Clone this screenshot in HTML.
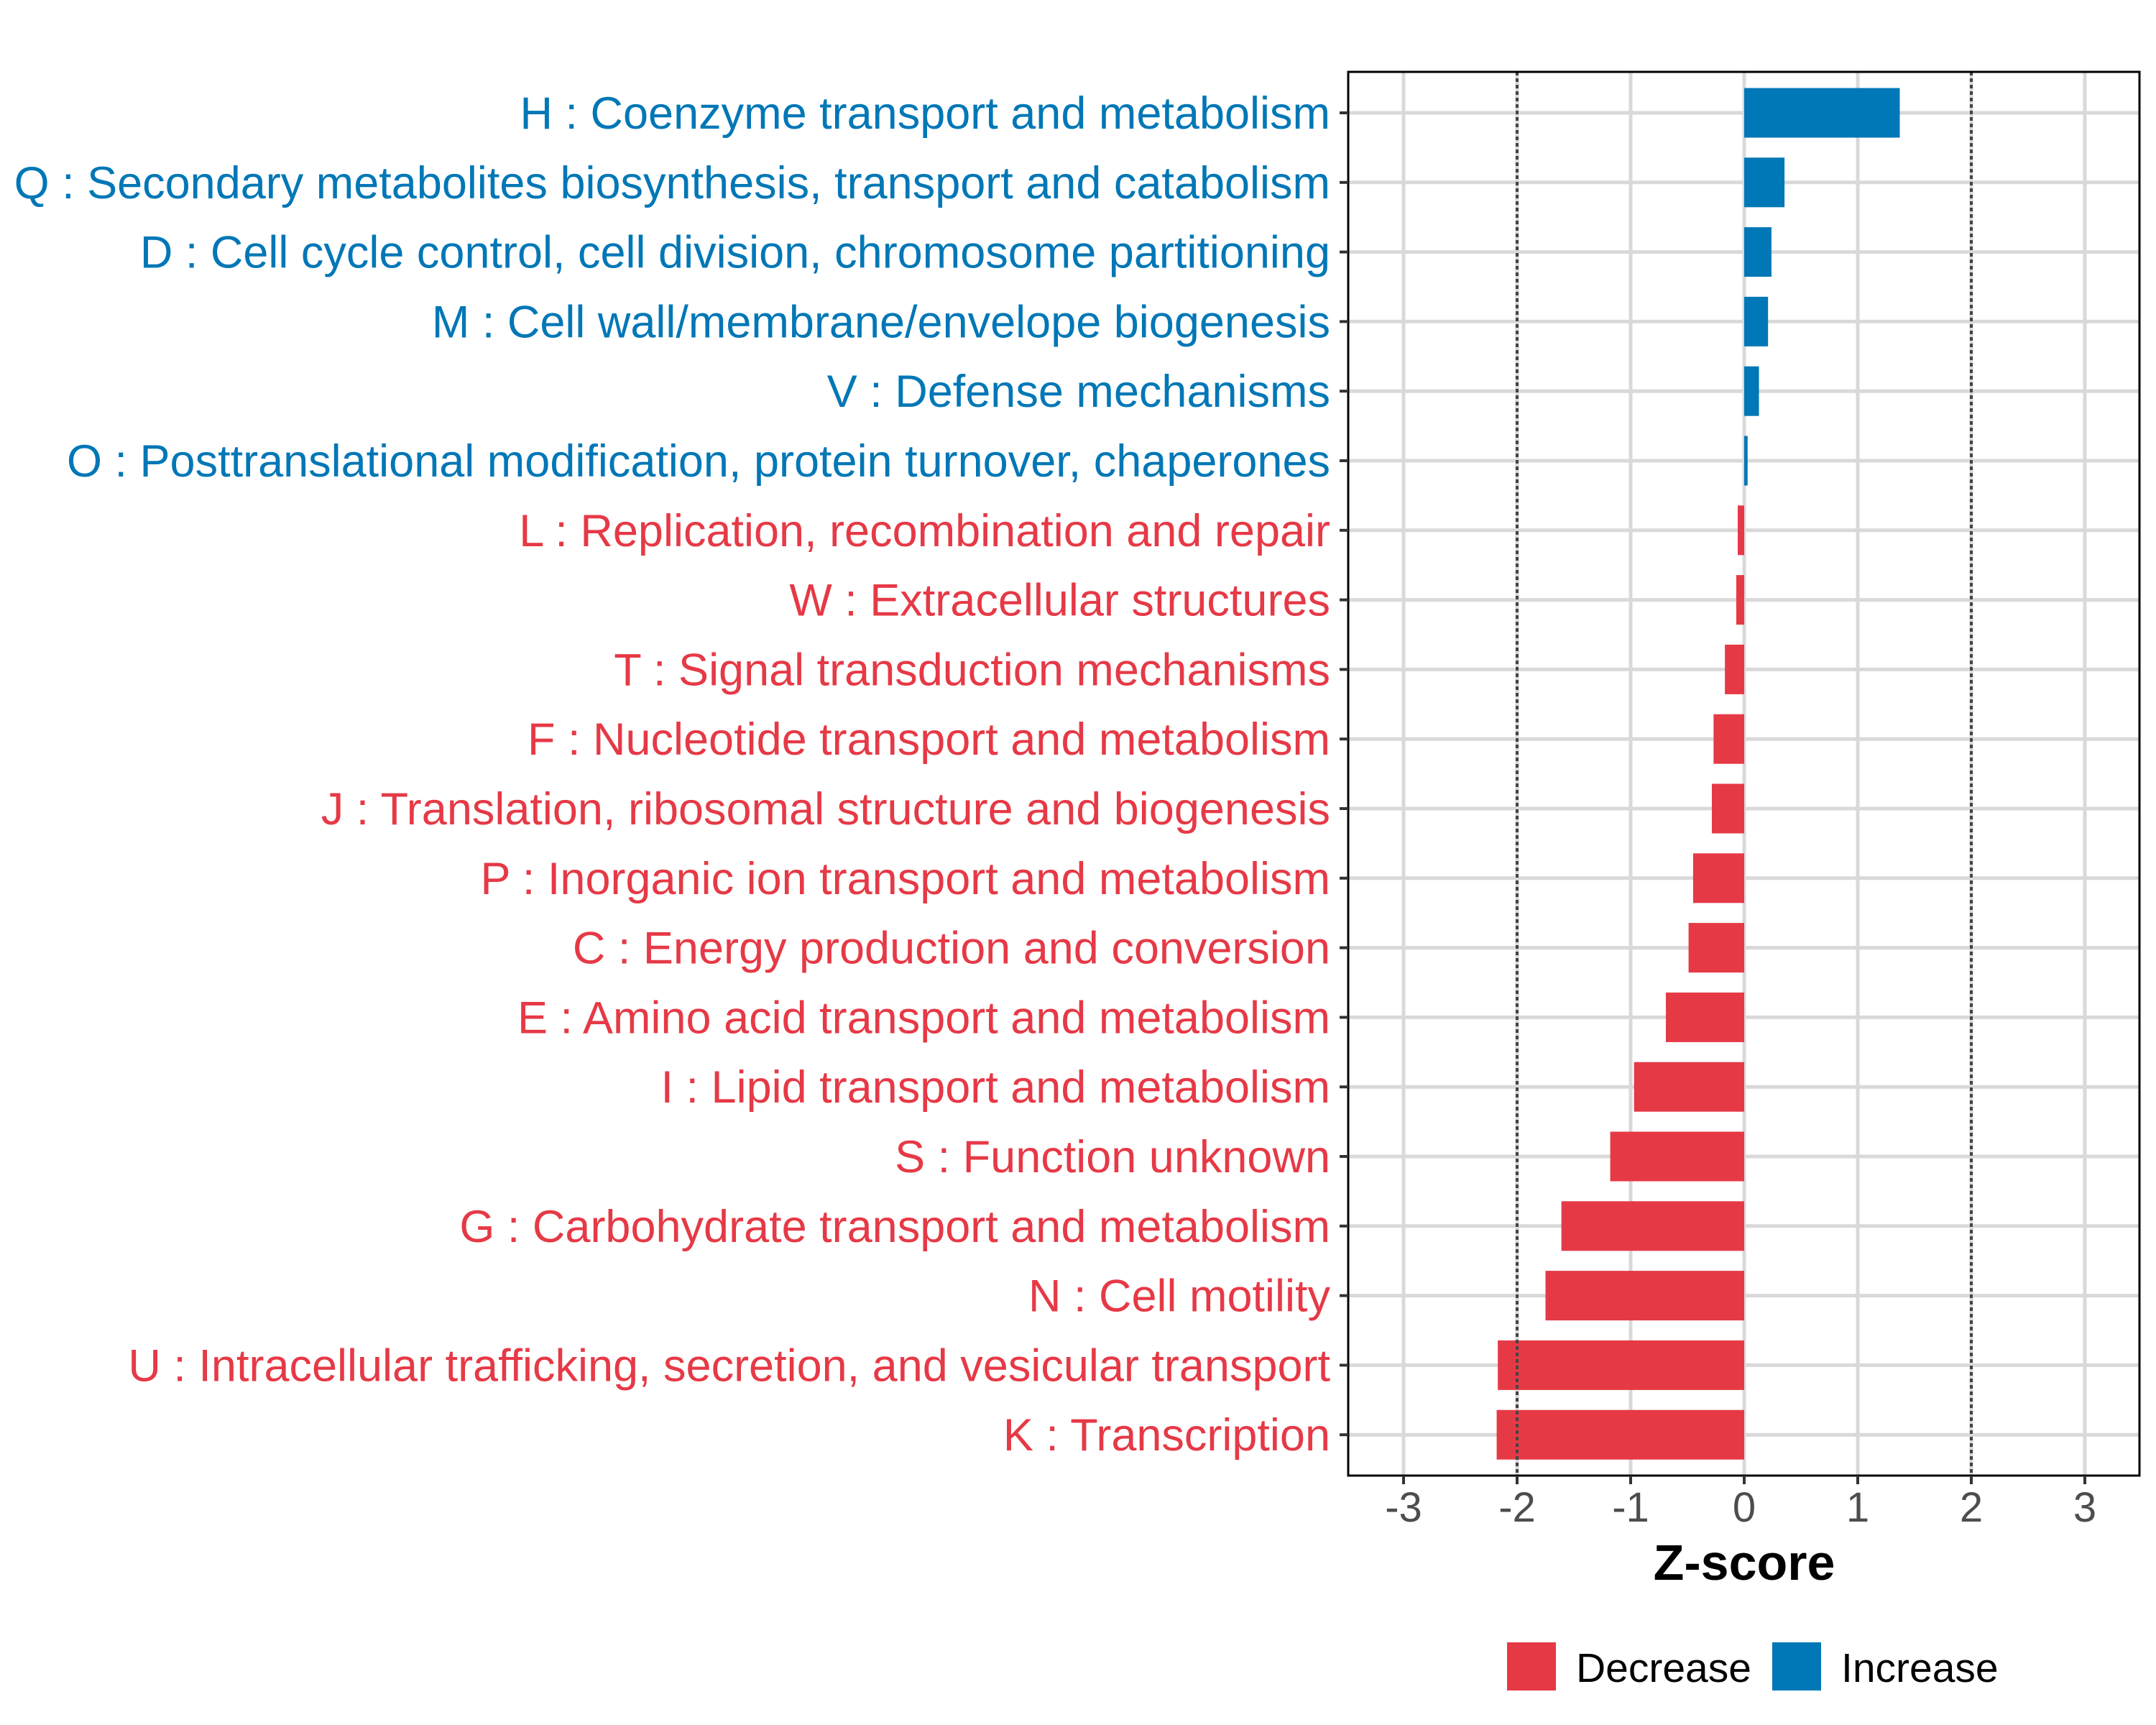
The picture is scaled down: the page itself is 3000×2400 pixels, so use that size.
<!DOCTYPE html>
<html><head><meta charset="utf-8"><style>
html,body{margin:0;padding:0;background:#fff;}
svg{display:block;font-family:"Liberation Sans",Arial,sans-serif;}
</style></head><body>
<svg id="chart" width="3000" height="2400" viewBox="0 0 3000 2400" xmlns="http://www.w3.org/2000/svg">
<rect width="3000" height="2400" fill="#fff"/>
<g id="grid"></g><g id="bars"></g><g id="axes"></g><g id="labels"></g>
</svg>
<script>
const categories = ["H : Coenzyme transport and metabolism","Q : Secondary metabolites biosynthesis, transport and catabolism","D : Cell cycle control, cell division, chromosome partitioning","M : Cell wall/membrane/envelope biogenesis","V : Defense mechanisms","O : Posttranslational modification, protein turnover, chaperones","L : Replication, recombination and repair","W : Extracellular structures","T : Signal transduction mechanisms","F : Nucleotide transport and metabolism","J : Translation, ribosomal structure and biogenesis","P : Inorganic ion transport and metabolism","C : Energy production and conversion","E : Amino acid transport and metabolism","I : Lipid transport and metabolism","S : Function unknown","G : Carbohydrate transport and metabolism","N : Cell motility","U : Intracellular trafficking, secretion, and vesicular transport","K : Transcription"];
const zscores = [1.37,0.355,0.24,0.21,0.13,0.03,-0.057,-0.07,-0.17,-0.27,-0.285,-0.45,-0.49,-0.69,-0.97,-1.18,-1.61,-1.75,-2.17,-2.18];
const xTicks = [-3,-2,-1,0,1,2,3];
const xTickLabels = ["-3","-2","-1","0","1","2","3"];
const thresholds = [-2,2];
const legendLabels = ["Decrease","Increase"];

const NS="http://www.w3.org/2000/svg";
const RED="#E63946", BLUE="#0077B6";
const panel={l:1876,r:2977,t:100,b:2053};
const x0=2427, unit=158;
function xs(v){return x0+v*unit;}
const rowTop=157, rowStep=96.8;
function ys(i){return rowTop+i*rowStep;}
function mk(tag,attrs,parent){const e=document.createElementNS(NS,tag);for(const k in attrs)e.setAttribute(k,attrs[k]);parent.appendChild(e);return e;}
const grid=document.getElementById('grid'),bars=document.getElementById('bars'),axes=document.getElementById('axes'),labels=document.getElementById('labels');

let bg=mk('rect',{x:panel.l,y:panel.t,width:panel.r-panel.l,height:panel.b-panel.t,fill:'#fff'},grid);


xTicks.forEach(v=>{
  let g=mk('line',{x1:xs(v),x2:xs(v),y1:panel.t,y2:panel.b,stroke:'#d9d9d9','stroke-width':5},grid);
  
  
});
categories.forEach((c,i)=>{
  let g=mk('line',{x1:panel.l,x2:panel.r,y1:ys(i),y2:ys(i),stroke:'#d9d9d9','stroke-width':5},grid);
  
  
});
const bh=69;
zscores.forEach((v,i)=>{
  const a=xs(Math.min(0,v)),b=xs(Math.max(0,v));
  let r=mk('rect',{x:a,y:ys(i)-bh/2,width:Math.max(b-a,1),height:bh,fill:v>=0?BLUE:RED},bars);
  
  
});
thresholds.forEach(v=>{
  let d=mk('line',{x1:xs(v),x2:xs(v),y1:panel.t,y2:panel.b,stroke:'#444','stroke-width':4,'stroke-dasharray':'5 4'},bars);
  
  
});
let border=mk('rect',{x:panel.l,y:panel.t,width:panel.r-panel.l,height:panel.b-panel.t,fill:'none',stroke:'#000','stroke-width':3},axes);


xTicks.forEach((v,i)=>{
  let t=mk('line',{x1:xs(v),x2:xs(v),y1:panel.b,y2:panel.b+12,stroke:'#333','stroke-width':4},axes);
  
  
  let tl=mk('text',{x:xs(v),y:2117,'text-anchor':'middle','font-size':58,fill:'#4d4d4d'},labels);
  tl.textContent=xTickLabels[i];
  
  
});
categories.forEach((c,i)=>{
  let t=mk('line',{x1:panel.l-12,x2:panel.l,y1:ys(i),y2:ys(i),stroke:'#333','stroke-width':4},axes);
  
  
  let l=mk('text',{x:1851,y:ys(i)+22,'text-anchor':'end','font-size':63,fill:zscores[i]>=0?BLUE:RED},labels);
  l.textContent=c;
  
  
});
let xt=mk('text',{x:x0,y:2198,'text-anchor':'middle','font-size':70,'font-weight':'bold',fill:'#000'},labels);
xt.textContent='Z-score';


const legX=[2097,2466];
legendLabels.forEach((lab,i)=>{
  let k=mk('rect',{x:legX[i],y:2285,width:68,height:67,fill:i===0?RED:BLUE},labels);
  
  
  let t=mk('text',{x:legX[i]+96,y:2340,'font-size':57,fill:'#000'},labels);
  t.textContent=lab;
  
  
});
</script>
</body></html>
